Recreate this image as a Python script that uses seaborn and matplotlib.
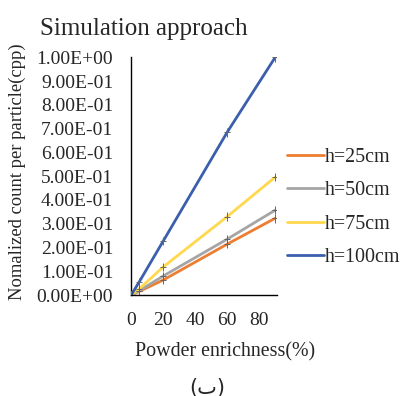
import numpy as np
import pandas as pd
import seaborn as sns
import matplotlib.pyplot as plt
from matplotlib.ticker import FuncFormatter

# Powder enrichment (%) and normalized counts per particle
enrichment = [0, 5, 20, 60, 90]
h25 = [0.0, 0.015, 0.063, 0.214, 0.323]
h50 = [0.0, 0.018, 0.080, 0.235, 0.357]
h75 = [0.0, 0.026, 0.118, 0.330, 0.496]
h100 = [0.0, 0.055, 0.227, 0.685, 1.0]
labels = ["h=25cm", "h=50cm", "h=75cm", "h=100cm"]
colors = ["#ED7D31", "#A5A5A5", "#FFD84D", "#3B5FAD"]

df = pd.DataFrame({"x": enrichment * 4,
                   "y": h25 + h50 + h75 + h100,
                   "series": np.repeat(labels, len(enrichment))})

sns.set_style("white")
plt.rcParams["font.family"] = ["Liberation Serif", "DejaVu Serif"]

fig = plt.figure(figsize=(4.0, 3.96), dpi=100)
ax = fig.add_axes([0.328, 0.255, 0.365, 0.6])

sns.lineplot(data=df, x="x", y="y", hue="series", palette=colors,
             linewidth=2, ax=ax)
# small error crosses at the points
ax.errorbar(df["x"], df["y"], yerr=0.018, xerr=1.8, fmt="none",
            ecolor="#666666", elinewidth=0.7, capsize=0, zorder=3)

ax.set_xlim(0, 91.3)
ax.set_ylim(0, 1.0)
ax.set_xticks([0, 20, 40, 60, 80])
ax.set_yticks(np.arange(0, 1.01, 0.1))
ax.yaxis.set_major_formatter(FuncFormatter(lambda v, p: f"{v:.2E}"))
ax.tick_params(labelsize=14, length=0)
ax.tick_params(axis="y", pad=13)
ax.tick_params(axis="x", pad=12)
for s in ["top", "right"]:
    ax.spines[s].set_visible(False)
for s in ["left", "bottom"]:
    ax.spines[s].set_color("black")
    ax.spines[s].set_linewidth(1)

ax.set_xlabel("Powder enrichness(%)", fontsize=14.4)
ax.xaxis.set_label_coords(0.64, -0.2)
ax.set_ylabel("Nomalized count per particle(cpp)", fontsize=13.4)
ax.yaxis.set_label_coords(-0.72, 0.52)

ax.legend(loc="center left", bbox_to_anchor=(1.01, 0.368), frameon=False,
          fontsize=14.4, handlelength=1.85, labelspacing=0.72, handletextpad=0.05,
          borderaxespad=0)

fig.text(0.1, 0.955, "Simulation approach", fontsize=18, va="top")
fig.text(0.518, 0.023, "(ب)", fontsize=15, ha="center", va="center",
         family=["DejaVu Sans"])

fig.savefig("out.png", dpi=100)
